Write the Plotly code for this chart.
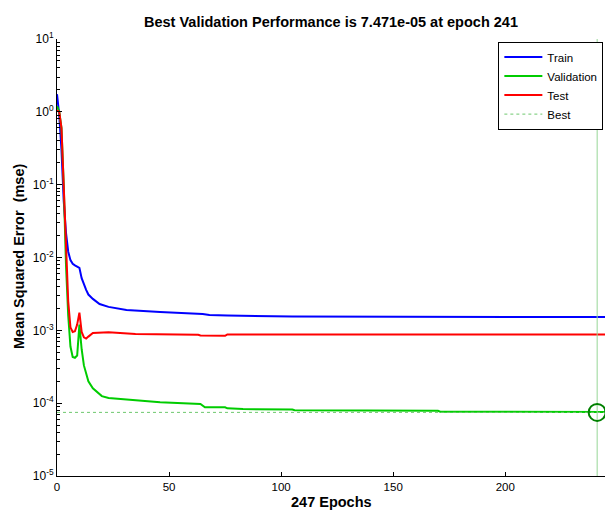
import plotly.graph_objects as go

# ---- data ----
train_epochs = [0, 1, 2, 3, 4, 5, 6, 7, 8, 9, 10, 11, 12, 13, 14, 16, 19, 23, 31, 46, 65, 68, 76, 105, 247]
train_mse = [1.75, 0.9, 0.3, 0.06, 0.022, 0.012, 0.0092, 0.0082, 0.0078, 0.0075, 0.0072, 0.0052,
             0.0042, 0.0036, 0.0031, 0.0027, 0.0023, 0.0021, 0.0019, 0.00178, 0.00168, 0.00163,
             0.0016, 0.00155, 0.00152]

val_epochs = [0, 1, 2, 3, 4, 5, 6, 7, 8, 9, 10, 11, 12, 13, 14, 16, 20, 23, 31, 46, 64, 66, 75, 76,
              83, 105, 106, 170, 171, 241, 247]
val_mse = [1.2, 1.0, 0.6, 0.1, 0.008, 0.0016, 0.0006, 0.00043, 0.00042, 0.00045, 0.0012, 0.00055,
           0.00033, 0.00025, 0.0002, 0.00016, 0.000125, 0.000118, 0.000112, 0.000103, 0.0000975,
           0.0000877, 0.0000877, 0.000085, 0.000083, 0.000082, 0.00008, 0.0000785, 0.0000765,
           0.00007471, 0.0000755]

test_epochs = [0, 1, 2, 3, 4, 5, 6, 7, 8, 9, 10, 11, 12, 13, 14, 16, 23, 30, 35, 63, 64, 75, 76, 247]
test_mse = [1.05, 1.0, 0.6, 0.1, 0.015, 0.0025, 0.0011, 0.00095, 0.00097, 0.0012, 0.00175, 0.00095,
            0.0008, 0.00077, 0.00082, 0.00092, 0.00094, 0.00092, 0.00089, 0.00087, 0.00085, 0.00084,
            0.00088, 0.00088]

best_epoch = 241
best_perf = 7.471e-05
n_epochs = 247

y_tick_vals = [1e-5, 1e-4, 1e-3, 1e-2, 1e-1, 1e0, 1e1]
y_tick_text = ["10<sup>-5</sup>", "10<sup>-4</sup>", "10<sup>-3</sup>", "10<sup>-2</sup>",
               "10<sup>-1</sup>", "10<sup>0</sup>", "10<sup>1</sup>"]
x_tick_vals = [0, 50, 100, 150, 200]
minor_vals = [m * d for d in [1e-5, 1e-4, 1e-3, 1e-2, 1e-1, 1e0] for m in range(2, 10)]

FONT = "Liberation Sans, Arial, sans-serif"
W, H = 605, 513
ML, MR, MT, MB = 57, 0, 39, 37

fig = go.Figure()
fig.add_trace(go.Scatter(x=train_epochs, y=train_mse, mode="lines", name="Train",
                         line=dict(color="rgb(0,0,255)", width=2)))
fig.add_trace(go.Scatter(x=val_epochs, y=val_mse, mode="lines", name="Validation",
                         line=dict(color="rgb(0,204,0)", width=2)))
fig.add_trace(go.Scatter(x=test_epochs, y=test_mse, mode="lines", name="Test",
                         line=dict(color="rgb(255,0,0)", width=2)))
fig.add_trace(go.Scatter(x=[0, n_epochs], y=[best_perf, best_perf], mode="lines", name="Best",
                         line=dict(color="rgb(110,200,110)", width=1, dash="dot")))
fig.add_trace(go.Scatter(x=[best_epoch, best_epoch], y=[1e-5, 10], mode="lines", showlegend=False,
                         line=dict(color="rgb(150,215,150)", width=1)))
fig.add_trace(go.Scatter(x=[best_epoch], y=[best_perf], mode="markers", showlegend=False,
                         cliponaxis=False,
                         marker=dict(symbol="circle-open", size=17,
                                     line=dict(color="rgb(0,128,0)", width=2), color="rgb(0,128,0)")))

fig.update_layout(
    width=W, height=H,
    margin=dict(l=ML, r=MR, t=MT, b=MB, autoexpand=False),
    paper_bgcolor="white", plot_bgcolor="white",
    font=dict(family=FONT, size=11, color="black"),
    title=dict(text="<b>Best Validation Performance is 7.471e-05 at epoch 241</b>",
               x=0.5, xref="paper", xanchor="center", y=(H - 22) / H, yanchor="middle",
               font=dict(size=14.5, family=FONT)),
    showlegend=True,
    legend=dict(x=0.997, xanchor="right", y=0.994, yanchor="top",
                bordercolor="black", borderwidth=1, bgcolor="white", itemwidth=38,
                font=dict(size=11.5, family=FONT), tracegroupgap=0),
    xaxis=dict(range=[0, 244.5], tickmode="array", tickvals=x_tick_vals, automargin=False,
               ticks="inside", ticklen=4, tickcolor="black", showline=True, linecolor="black",
               linewidth=1, showgrid=False, zeroline=False, mirror=False,
               tickfont=dict(size=11.5, family=FONT)),
    yaxis=dict(type="log", range=[-5, 1], tickmode="array", tickvals=y_tick_vals, automargin=False,
               ticktext=y_tick_text, ticks="inside", ticklen=5, tickcolor="black",
               showline=True, linecolor="black", linewidth=1, showgrid=False, zeroline=False,
               mirror=False, tickfont=dict(size=12, family=FONT),
               minor=dict(tickmode="array", tickvals=minor_vals, ticks="inside", ticklen=3,
                          tickcolor="black", showgrid=False)),
    annotations=[
        dict(text="<b>247 Epochs</b>", xref="paper", yref="paper", x=0.5, y=-(502 - (H - MB)) / (H - MT - MB),
             xanchor="center", yanchor="middle", showarrow=False, font=dict(size=14.5, family=FONT)),
        dict(text="<b>Mean Squared Error  (mse)</b>", xref="paper", yref="paper",
             x=-(ML - 19) / (W - ML - MR), y=(H - MB - 256) / (H - MT - MB),
             xanchor="center", yanchor="middle", textangle=-90, showarrow=False,
             font=dict(size=14.5, family=FONT)),
    ],
)

fig.write_html("out.html", config={"displayModeBar": False},
               post_script="document.body.style.margin='0';document.body.style.overflow='hidden';")
